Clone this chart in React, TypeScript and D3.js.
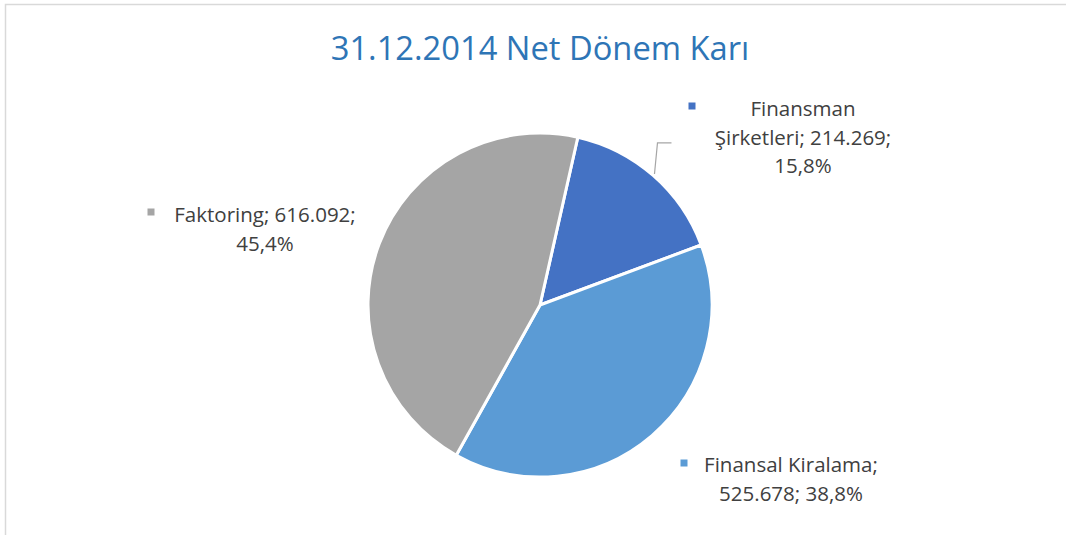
import React from "react";
import * as d3 from "d3";

const categories = ["Finansman Şirketleri", "Finansal Kiralama", "Faktoring"];
const values = [214269, 525678, 616092];
const valueLabels = ["214.269", "525.678", "616.092"];
const percentLabels = ["15,8%", "38,8%", "45,4%"];
const title = "31.12.2014 Net Dönem Karı";

const colors = ["#4472C4", "#5B9BD5", "#A5A5A5"];

const W = 1066;
const H = 535;
const cx = 540;
const cy = 305;
const R = 172;
const startDeg = 12.7;

const labelLines = [
  ["Finansman", `Şirketleri; ${valueLabels[0]};`, percentLabels[0]],
  [`Finansal Kiralama;`, `${valueLabels[1]}; ${percentLabels[1]}`],
  [`Faktoring; ${valueLabels[2]};`, percentLabels[2]],
];

// label layout (centre x, first baseline y, marker position)
const labelLayout = [
  { x: 803, y: 116, mx: 692, my: 106, lineH: 28.5 },
  { x: 791, y: 472, mx: 684, my: 463, lineH: 28.5 },
  { x: 265, y: 222, mx: 151, my: 212, lineH: 28.5 },
];

export default function App() {
  const pie = d3
    .pie<number>()
    .sort(null)
    .startAngle((startDeg * Math.PI) / 180)
    .endAngle((startDeg * Math.PI) / 180 + 2 * Math.PI);
  const arcs = pie(values);
  const arc = d3.arc<d3.PieArcDatum<number>>().innerRadius(0).outerRadius(R);

  // leader line for first slice (from slice mid-angle on the rim)
  const a0 = arcs[0];
  const mid = (a0.startAngle + a0.endAngle) / 2;
  const lx0 = cx + Math.sin(mid) * (R + 2);
  const ly0 = cy - Math.cos(mid) * (R + 2);

  return (
    <svg width={W} height={H} style={{ display: "block", position: "absolute", left: 0, top: 0 }}>
      <rect x={0} y={0} width={W} height={H} fill="#ffffff" />
      <path d={`M5.5,${H} L5.5,4.5 L${W},4.5`} fill="none" stroke="#d9d9d9" strokeWidth={1.5} />
      <text
        x={540}
        y={60}
        textAnchor="middle"
        fontFamily="'Open Sans', 'Noto Sans', sans-serif"
        fontSize={32.7}
        fill="#2E75B6"
      >
        {title}
      </text>
      <g transform={`translate(${cx},${cy})`}>
        {arcs.map((d, i) => (
          <path key={categories[i]} d={arc(d) || ""} fill={colors[i]} stroke="#ffffff" strokeWidth={3} strokeLinejoin="round" />
        ))}
      </g>
      <polyline
        points={`${lx0},${ly0} ${lx0 + 3},${ly0 - 31} ${lx0 + 17},${ly0 - 31}`}
        fill="none"
        stroke="#a6a6a6"
        strokeWidth={1.2}
      />
      {labelLayout.map((l, i) => (
        <g key={i}>
          <rect x={l.mx - 3.5} y={l.my - 3.5} width={7} height={7} fill={colors[i]} />
          {labelLines[i].map((t, j) => (
            <text
              key={j}
              x={l.x}
              y={l.y + j * l.lineH}
              textAnchor="middle"
              fontFamily="'Open Sans', 'Noto Sans', sans-serif"
              fontSize={20.5}
              fill="#404040"
            >
              {t}
            </text>
          ))}
        </g>
      ))}
    </svg>
  );
}
